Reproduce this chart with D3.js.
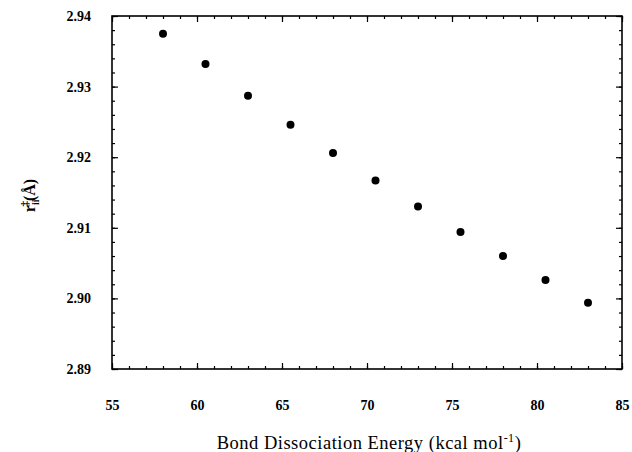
<!DOCTYPE html>
<html>
<head>
<meta charset="utf-8">
<script src="https://cdn.jsdelivr.net/npm/d3@7"></script>
<style>
  html, body { margin: 0; padding: 0; background: #fff; }
  svg { display: block; }
</style>
</head>
<body>
<div id="chart"></div>
<script>
// Data
const energies = [58, 60.5, 63, 65.5, 68, 70.5, 73, 75.5, 78, 80.5, 83];
const distances = [2.9375, 2.9332, 2.9287, 2.9246, 2.9206, 2.9167, 2.9130, 2.9094, 2.9060, 2.9026, 2.8994];
const xTicks = [55, 60, 65, 70, 75, 80, 85];
const yTicks = [2.89, 2.90, 2.91, 2.92, 2.93, 2.94];
const xMinorTicks = d3.range(55, 86, 1);
const yMinorTicks = d3.range(0, 26).map(i => 2.89 + i * 0.002);

const SERIF = "'Liberation Serif', 'Times New Roman', Times, 'DejaVu Serif', serif";

const W = 632, H = 452;
const margin = { left: 112, top: 16, right: 10, bottom: 83 };
const iw = W - margin.left - margin.right;
const ih = H - margin.top - margin.bottom;

const svg = d3.select("#chart").append("svg").attr("width", W).attr("height", H);
const g = svg.append("g").attr("transform", `translate(${margin.left},${margin.top})`);

const x = d3.scaleLinear().domain([55, 85]).range([0, iw]);
const y = d3.scaleLinear().domain([2.89, 2.94]).range([ih, 0]);

function styleAxis(sel) {
  sel.select(".domain").remove();
  sel.selectAll(".tick line").attr("stroke", "#000").attr("stroke-width", 1.2);
}

// minor ticks (inward) on all four sides
g.append("g").attr("transform", `translate(0,${ih})`)
  .call(d3.axisBottom(x).tickValues(xMinorTicks).tickSize(-3).tickFormat(""))
  .call(styleAxis);
g.append("g")
  .call(d3.axisTop(x).tickValues(xMinorTicks).tickSize(-3).tickFormat(""))
  .call(styleAxis);
g.append("g")
  .call(d3.axisLeft(y).tickValues(yMinorTicks).tickSize(-3).tickFormat(""))
  .call(styleAxis);
g.append("g").attr("transform", `translate(${iw},0)`)
  .call(d3.axisRight(y).tickValues(yMinorTicks).tickSize(-3).tickFormat(""))
  .call(styleAxis);

// major ticks with labels
const xAxis = g.append("g").attr("transform", `translate(0,${ih})`)
  .call(d3.axisBottom(x).tickValues(xTicks).tickSize(-6).tickPadding(31).tickFormat(d3.format("d")))
  .call(styleAxis);
xAxis.selectAll("text").style("font-size", "14px").style("font-weight", "bold")
  .style("font-family", SERIF).attr("fill", "#000");

g.append("g")
  .call(d3.axisTop(x).tickValues(xTicks).tickSize(-6).tickFormat(""))
  .call(styleAxis);

const yAxis = g.append("g")
  .call(d3.axisLeft(y).tickValues(yTicks).tickSize(-6).tickPadding(21).tickFormat(d3.format(".2f")))
  .call(styleAxis);
yAxis.selectAll("text").style("font-size", "14px").style("font-weight", "bold")
  .style("font-family", SERIF).attr("fill", "#000");

g.append("g").attr("transform", `translate(${iw},0)`)
  .call(d3.axisRight(y).tickValues(yTicks).tickSize(-6).tickFormat(""))
  .call(styleAxis);

// frame
g.append("rect").attr("x", 0).attr("y", 0).attr("width", iw).attr("height", ih)
  .attr("fill", "none").attr("stroke", "#000").attr("stroke-width", 1.6);

// points
g.selectAll("circle.pt").data(energies).enter().append("circle")
  .attr("class", "pt")
  .attr("cx", (d) => x(d))
  .attr("cy", (d, i) => y(distances[i]))
  .attr("r", 4)
  .attr("fill", "#000");

// x label
const xl = svg.append("text")
  .attr("x", margin.left + iw / 2 + 2)
  .attr("y", 449)
  .attr("text-anchor", "middle")
  .style("font-family", SERIF)
  .style("font-size", "18.5px")
  .style("letter-spacing", "0.5px");
xl.append("tspan").text("Bond Dissociation Energy (kcal mol");
xl.append("tspan").style("font-size", "12px").attr("dy", -7).text("-1");
xl.append("tspan").attr("dy", 7).text(")");

// y label
const yl = svg.append("text")
  .attr("transform", `translate(35,${margin.top + ih / 2 + 3}) rotate(-90)`)
  .attr("text-anchor", "middle")
  .style("font-family", SERIF)
  .style("font-size", "16px")
  .style("font-weight", "bold");
yl.append("tspan").text("r");
yl.append("tspan").style("font-size", "10px").attr("dy", 4).text("ii");
yl.append("tspan").style("font-size", "11px").attr("dx", -7).attr("dy", -11).text("\u2021");
yl.append("tspan").attr("dy", 7).text("(\u00C5)");
</script>
</body>
</html>
